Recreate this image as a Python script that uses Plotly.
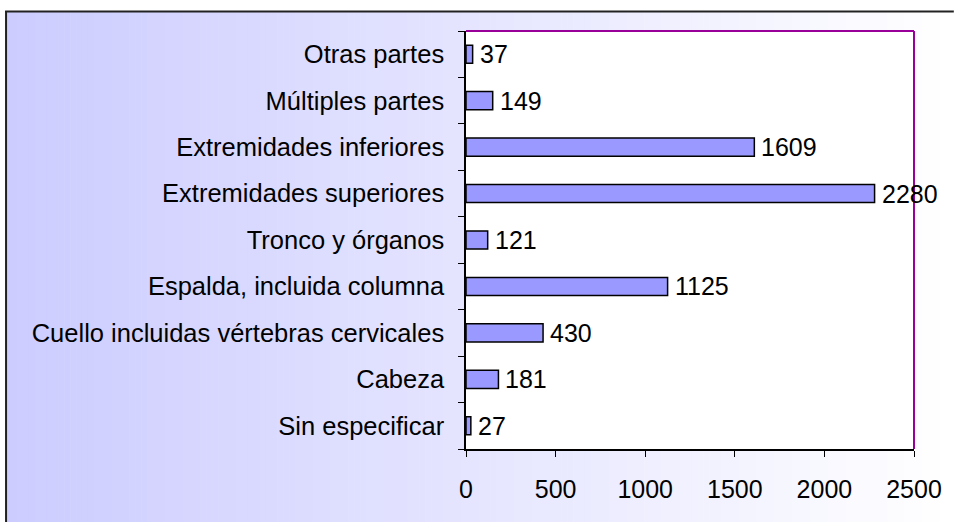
import plotly.graph_objects as go

categories = ["Sin especificar", "Cabeza", "Cuello incluidas vértebras cervicales",
              "Espalda, incluida columna", "Tronco y órganos", "Extremidades superiores",
              "Extremidades inferiores", "Múltiples partes", "Otras partes"]
values = [27, 181, 430, 1125, 121, 2280, 1609, 149, 37]
x_ticks = [0, 500, 1000, 1500, 2000, 2500]

W, H = 954, 522
L, R, T, B = 466, 916, 31, 449
pw, ph = R - L, B - T
FONT = "Liberation Sans, Arial"
FS = 25

def px(x):
    return (x - L) / pw

def py(y):
    return (B - y) / ph

fig = go.Figure()
fig.add_trace(go.Bar(
    y=categories, x=values, orientation="h",
    marker=dict(color="#9999FF", line=dict(color="#000000", width=1.5)),
    cliponaxis=False, width=0.39, hoverinfo="skip",
))

annotations = [dict(x=v, y=c, xref="x", yref="y", text=str(v), showarrow=False,
                    xanchor="left", yanchor="middle", xshift=5,
                    font=dict(size=FS, color="#000000", family=FONT))
               for c, v in zip(categories, values)]

shapes = []
# gradient background box
n = 160
x0, x1 = 3, W
for i in range(n):
    a = x0 + (x1 - x0) * i / n
    b = x0 + (x1 - x0) * (i + 1) / n + 0.6
    t = i / (n - 1)
    r = int(round(204 + (255 - 204) * t))
    g = int(round(204 + (255 - 204) * t))
    shapes.append(dict(type="rect", xref="paper", yref="paper", layer="below",
                       x0=px(a), x1=px(b), y0=py(11), y1=py(H + 2),
                       fillcolor=f"rgb({r},{g},255)", line=dict(width=0)))
# white plot area
shapes.append(dict(type="rect", xref="paper", yref="paper", layer="below",
                   x0=0, x1=1, y0=0, y1=1, fillcolor="#FFFFFF", line=dict(width=0)))
# outer box border (left, top)
shapes.append(dict(type="line", xref="paper", yref="paper", x0=px(4), x1=px(4),
                   y0=py(11), y1=py(H + 2), line=dict(color="#222222", width=2)))
shapes.append(dict(type="line", xref="paper", yref="paper", x0=px(3), x1=px(W + 2),
                   y0=py(11.5), y1=py(11.5), line=dict(color="#222222", width=2)))
# purple plot border (top, right)
shapes.append(dict(type="line", xref="paper", yref="paper", x0=0, x1=1, y0=1, y1=1,
                   line=dict(color="#990099", width=2)))
shapes.append(dict(type="line", xref="paper", yref="paper", x0=1, x1=1, y0=0, y1=1,
                   line=dict(color="#990099", width=2)))

fig.update_layout(
    width=W, height=H,
    margin=dict(l=L, r=W - R, t=T, b=H - B, pad=0),
    paper_bgcolor="#FFFFFF", plot_bgcolor="#FFFFFF",
    font=dict(family=FONT, size=FS, color="#000000"),
    showlegend=False, shapes=shapes, annotations=annotations,
    bargap=0.61,
)
fig.update_xaxes(range=[0, 2500], tickvals=x_ticks, ticktext=[str(v) for v in x_ticks],
                 showgrid=False, zeroline=False, showline=True, linecolor="#000000",
                 linewidth=1.5, ticks="outside", ticklen=6, tickcolor="#000000",
                 ticklabelstandoff=11, tickfont=dict(size=FS))
fig.update_yaxes(categoryorder="array", categoryarray=categories,
                 showgrid=False, zeroline=False, showline=True, linecolor="#000000",
                 linewidth=1.5, ticks="outside", ticklen=6, tickcolor="#000000",
                 tickson="boundaries", ticklabelstandoff=15, tickfont=dict(size=25.5))

fig.write_html("out.html", config={"displayModeBar": False},
               post_script="document.body.style.margin='0';")
